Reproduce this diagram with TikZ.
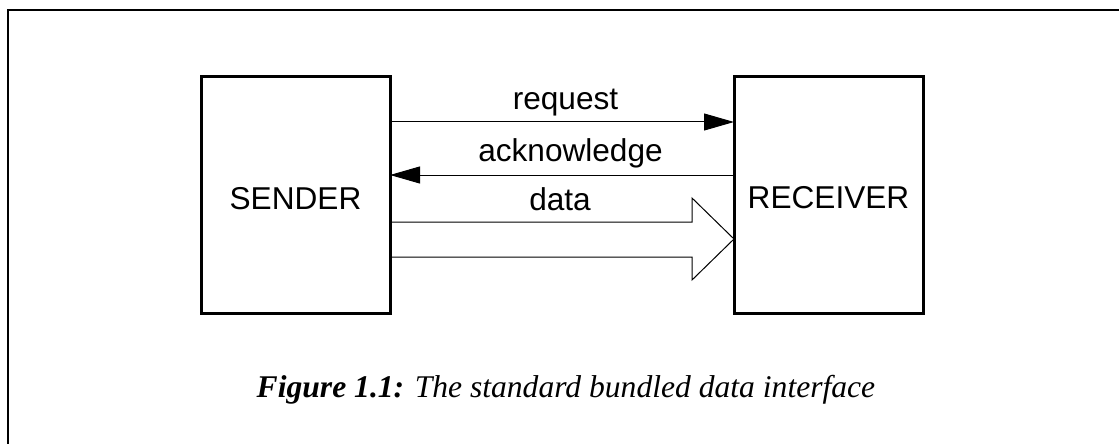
\documentclass[tikz,border=0pt]{standalone}
\usepackage{fontspec}
\setmainfont{Liberation Serif}
\setsansfont{Liberation Sans}
\usepackage{tikz}
\usetikzlibrary{positioning, arrows.meta, calc}

\begin{document}
\begin{tikzpicture}[
    x=0.5pt, y=-0.5pt,
    unit/.style={draw, line width=1.5pt, rectangle, outer sep=0pt, inner sep=0pt,
        minimum width=94.5pt, minimum height=118.5pt},
    lbl/.style={font=\sffamily\fontsize{15.8}{18}\selectfont, anchor=base, inner sep=0pt},
    sig/.style={line width=0.5pt, -{Triangle[length=15pt, width=8.5pt]}},
    bus/.style={line width=0.5pt, line join=miter}
]
    % page frame and fixed size
    \useasboundingbox (0,0) rectangle (1119,444);
    \draw[line width=1pt] (8,444) -- (8,10) -- (1119,10);

    % the two units
    \node[unit] (sender) at (295.5,195) {};
    \node[unit] (receiver) at (828.5,195) {};
    \node[lbl] (sendertxt) at (295.5,209) {SENDER};
    \node[lbl] (receivertxt) at (828.5,208) {RECEIVER};

    % handshake wires
    \coordinate (reqy) at (0,122);
    \coordinate (acky) at (0,175);
    \draw[sig] (sender.east |- reqy) -- (receiver.west |- reqy);
    \draw[sig] (receiver.west |- acky) -- (sender.east |- acky);
    \node[lbl] (reqtxt) at (565.5,110) {request};
    \node[lbl] (acktxt) at (570.5,162) {acknowledge};

    % data bus as a hollow arrow
    \coordinate (tip) at (receiver.west |- 0,239);
    \draw[bus] (sender.east |- 0,222) -- ($(tip)+(-42,-17)$) -- ($(tip)+(-42,-41)$)
        -- (tip) -- ($(tip)+(-42,41)$) -- ($(tip)+(-42,18)$) -- (sender.east |- 0,257);
    \node[lbl] (datatxt) at (560,210) {data};

    % caption
    \node[anchor=base, inner sep=0pt] (caption) at (566,397)
        {\fontsize{15.8}{18}\selectfont\textbf{\textit{Figure 1.1:}}\textit{ The standard bundled data interface}};
\end{tikzpicture}
\end{document}
